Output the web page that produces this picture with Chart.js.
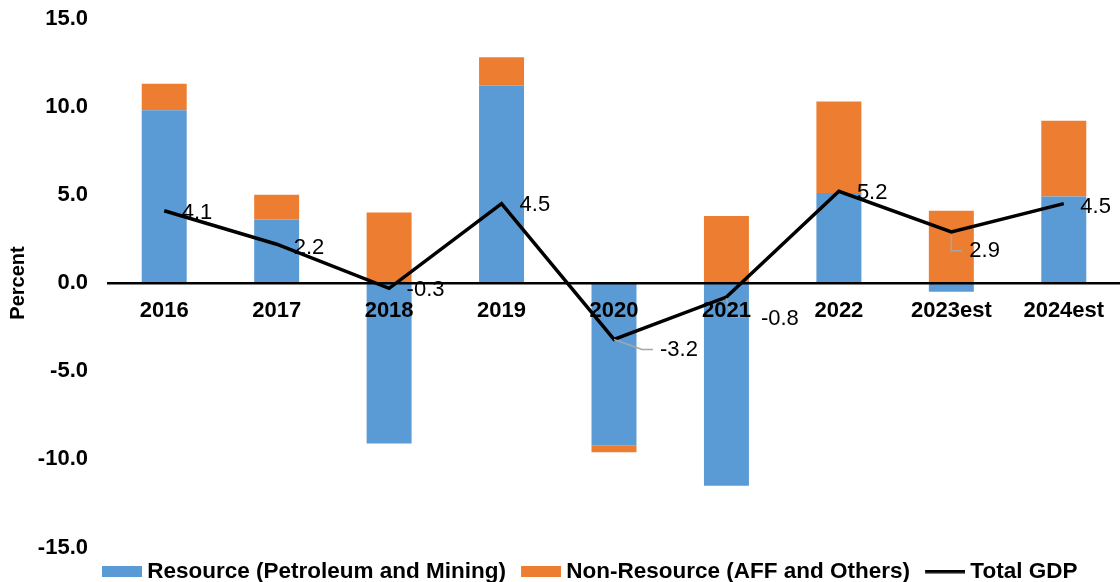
<!DOCTYPE html>
<html><head><meta charset="utf-8">
<script src="https://cdn.jsdelivr.net/npm/chart.js@4.4.1/dist/chart.umd.min.js"></script>
<style>html,body{margin:0;padding:0;background:#fff;overflow:hidden}#wrap{width:1120px;height:582px;position:relative}canvas{display:block}</style>
</head><body><div id="wrap"><canvas id="c" width="1120" height="582"></canvas></div>
<script>
const categories = ['2016', '2017', '2018', '2019', '2020', '2021', '2022', '2023est', '2024est'];
const resource = [9.8, 3.6, -9.1, 11.2, -9.2, -11.5, 5.1, -0.5, 4.9];
const nonResource = [1.5, 1.4, 4.0, 1.6, -0.4, 3.8, 5.2, 4.1, 4.3];
const totalGDP = [4.1, 2.2, -0.3, 4.5, -3.2, -0.8, 5.2, 2.9, 4.5];
const seriesNames = ['Resource (Petroleum and Mining)', 'Non-Resource (AFF and Others)', 'Total GDP'];
const yMin = -15, yMax = 15, yStep = 5;

const BLUE = '#5B9BD5', ORANGE = '#ED7D31';
const FONT = '"Liberation Sans", Arial, Helvetica, sans-serif';

function makeSwatch(color, isLine) {
  const c = document.createElement('canvas');
  c.width = 59; c.height = isLine ? 4 : 11;
  const g = c.getContext('2d');
  g.fillStyle = color;
  if (isLine) g.fillRect(19, 0, 40, 3.5);
  else g.fillRect(19, 0, 40, 11);
  return c;
}
const swatches = [makeSwatch(BLUE, false), makeSwatch(ORANGE, false), makeSwatch('#000', true)];

const labelPlugin = {
  id: 'gdpLabels',
  afterDatasetsDraw(chart, args, opts) {
    const meta = chart.getDatasetMeta(2);
    const ctx = chart.ctx;
    ctx.save();
    ctx.font = '22px ' + FONT;
    ctx.fillStyle = '#000';
    ctx.textBaseline = 'middle';
    ctx.textAlign = 'left';
    meta.data.forEach((pt, i) => {
      const o = opts.offsets[i];
      if (o.leader) {
        ctx.strokeStyle = '#A6A6A6';
        ctx.lineWidth = 1.5;
        ctx.beginPath();
        o.leader.forEach((p, k) => k ? ctx.lineTo(pt.x + p[0], pt.y + p[1]) : ctx.moveTo(pt.x + p[0], pt.y + p[1]));
        ctx.stroke();
      }
      ctx.fillText(totalGDP[i].toFixed(1), pt.x + o.dx, pt.y + o.dy);
    });
    ctx.restore();
  }
};

const legendShift = {
  id: 'legendShift',
  afterLayout(chart, args, opts) {
    const lg = chart.legend;
    lg.left += opts.dx; lg.right += opts.dx;
    lg.top += opts.dy; lg.bottom += opts.dy;
  }
};

new Chart(document.getElementById('c'), {
  data: {
    labels: categories,
    datasets: [
      { type: 'bar', label: seriesNames[0], data: resource, backgroundColor: BLUE, borderWidth: 0, stack: 'gdp', order: 1, barPercentage: 0.4, categoryPercentage: 1 },
      { type: 'bar', label: seriesNames[1], data: nonResource, backgroundColor: ORANGE, borderWidth: 0, stack: 'gdp', order: 1, barPercentage: 0.4, categoryPercentage: 1 },
      { type: 'line', label: seriesNames[2], data: totalGDP, borderColor: '#000', backgroundColor: '#000', borderWidth: 3.5, pointRadius: 0, tension: 0, stack: 'line', order: 0 }
    ]
  },
  options: {
    responsive: false,
    animation: false,
    devicePixelRatio: 1,
    layout: { padding: { top: 0, right: 0, left: 0, bottom: 0 } },
    scales: {
      x: {
        type: 'category',
        stacked: true,
        offset: true,
        position: { y: 0 },
        grid: { color: 'rgba(0,0,0,0)', drawTicks: false },
        border: { display: true, color: '#000', width: 2.5, z: 1 },
        ticks: { z: 1, color: '#000', font: { family: FONT, size: 22, weight: 'bold' }, padding: 15, maxRotation: 0, autoSkip: false }
      },
      y: {
        stacked: true,
        min: yMin, max: yMax,
        afterFit: s => { s.width = 108; s.paddingTop = 18.5; s.paddingBottom = 0; },
        grid: { display: false, drawTicks: false },
        border: { display: false },
        ticks: { stepSize: yStep, color: '#000', padding: 20, font: { family: FONT, size: 22, weight: 'bold' }, callback: v => Number(v).toFixed(1) },
        title: { display: true, text: 'Percent', color: '#000', font: { family: FONT, size: 20, weight: 'bold' }, padding: { top: 6, bottom: 0 } }
      }
    },
    plugins: {
      tooltip: { enabled: false },
      legend: {
        position: 'bottom',
        align: 'start',
        labels: {
          color: '#000',
          font: { family: FONT, size: 22.5, weight: 'bold' },
          usePointStyle: true,
          pointStyleWidth: 47,
          boxHeight: 11,
          padding: 2,
          sort: (a, b) => a.datasetIndex - b.datasetIndex,
          generateLabels: chart => Chart.defaults.plugins.legend.labels.generateLabels(chart).map(it => Object.assign(it, { pointStyle: swatches[it.datasetIndex] }))
        }
      },
      legendShift: { dx: 87, dy: 11 },
      gdpLabels: {
        offsets: [
          { dx: 17.5, dy: 2 },
          { dx: 17, dy: 4 },
          { dx: 17.5, dy: 2 },
          { dx: 18, dy: 1.5 },
          { dx: 46, dy: 11, leader: [[0, 0], [28, 10], [39, 10]] },
          { dx: 34.5, dy: 22, leader: [[0, 1], [5, 20], [19, 20]] },
          { dx: 18, dy: 2 },
          { dx: 18, dy: 19, leader: [[0, 3], [0, 19], [11, 19]] },
          { dx: 16.5, dy: 3.5 }
        ]
      }
    }
  },
  plugins: [labelPlugin, legendShift]
});
</script>
</body></html>
